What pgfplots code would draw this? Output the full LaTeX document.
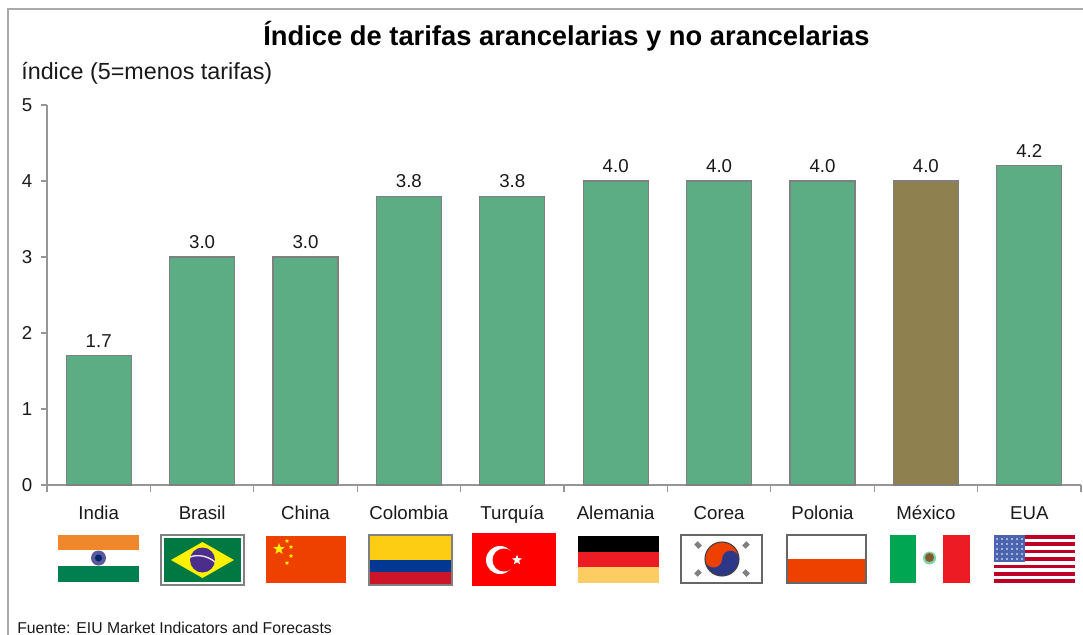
\documentclass[border=0pt]{standalone}
\usepackage{fontspec}
\setmainfont{Liberation Sans}
\usepackage{pgfplots}
\pgfplotsset{compat=1.18}
\usetikzlibrary{shapes.geometric}
\definecolor{barverde}{RGB}{92,173,131}
\definecolor{barmex}{RGB}{143,128,80}
\definecolor{ejegris}{RGB}{150,150,150}
\definecolor{marco}{RGB}{170,170,170}
\definecolor{texto}{RGB}{25,25,25}
\definecolor{fnaranja}{RGB}{240,135,45}
\definecolor{fverde}{RGB}{0,128,80}
\definecolor{fverdeb}{RGB}{0,120,65}
\definecolor{frojoc}{RGB}{238,65,0}
\definecolor{famar}{RGB}{253,205,20}
\definecolor{fazul}{RGB}{0,56,147}
\definecolor{frojoe}{RGB}{205,20,40}
\definecolor{frojoa}{RGB}{237,28,36}
\definecolor{foro}{RGB}{253,205,100}
\definecolor{fverdem}{RGB}{0,166,81}
\definecolor{frojou}{RGB}{190,0,40}
\definecolor{fazulu}{RGB}{75,100,175}
\definecolor{fazulk}{RGB}{45,55,135}
\definecolor{fmorado}{RGB}{75,45,140}
\begin{document}
\begin{tikzpicture}
% 1 px de la referencia = 0.75pt
\useasboundingbox (0pt,0pt) rectangle (812.25pt,-476.25pt);
\begin{axis}[
    at={(35.25pt,-363.75pt)},anchor=south west,
    scale only axis,width=775.5pt,height=285pt,
    ybar,bar width=48.75pt,bar shift=0pt,
    xmin=-0.5,xmax=9.5,ymin=0,ymax=5,
    axis x line*=bottom,axis y line*=left,
    axis line style={ejegris,line width=1.1pt,-},
    tick align=outside,
    xtick={0,...,9},
    xticklabels={India,Brasil,China,Colombia,Turquía,Alemania,Corea,Polonia,México,EUA},
    minor xtick={-0.5,0.5,...,9.5},
    minor tick length=5pt,
    major x tick style={draw=none},
    minor x tick style={ejegris,line width=0.9pt},
    ytick={0,...,5},
    y tick style={ejegris,line width=0.9pt},
    major tick length=4.5pt,
    tick label style={font=\fontsize{14pt}{16pt}\selectfont,text=texto},
    xticklabel style={yshift=-8pt,text height=10pt,text depth=3pt},
    yticklabel style={xshift=-3pt},
    /pgf/number format/assume math mode=true,
    title={\textbf{Índice de tarifas arancelarias y no arancelarias}},
    title style={at={(axis description cs:0.5024,1.160)},anchor=center,font=\fontsize{20.5pt}{24pt}\selectfont},
    ylabel={índice (5=menos tarifas)},
    ylabel style={rotate=-90,at={(axis description cs:-0.0251,1.083)},anchor=west,font=\fontsize{17.5pt}{20pt}\selectfont,text=texto,inner sep=0pt},
    nodes near coords={\pgfmathprintnumber[fixed,fixed zerofill,precision=1]{\pgfplotspointmeta}},
    nodes near coords style={font=\fontsize{14pt}{16pt}\selectfont,text=texto,yshift=2.5pt,/pgf/number format/assume math mode=true},
]
\addplot[fill=barverde,draw=gray,line width=0.8pt] coordinates {
    (0,1.7) (1,3.0) (2,3.0) (3,3.8) (4,3.8) (5,4.0) (6,4.0) (7,4.0) (9,4.2)
};
\addplot[fill=barmex,draw=gray,line width=0.8pt] coordinates {(8,4.0)};
\end{axis}
\begin{scope}[x=0.75pt,y=-0.75pt]
% marco
\draw[marco,line width=1.5pt] (8,635) -- (8,9) -- (1083,9);
\node[anchor=base west,inner sep=0pt,font=\fontsize{11.8pt}{14pt}\selectfont,text=texto] at (17,633) {Fuente: EIU Market Indicators and Forecasts};
% India
\fill[fnaranja] (58,535) rectangle (139,550);
\fill[white] (58,550) rectangle (139,566);
\fill[fverde] (58,566) rectangle (139,582);
\fill[black!10!blue!30!gray] (98.5,558) circle (7.5);
\fill[fazul!70!black] (98.5,558) circle (3.5);
% Brasil
\fill[white] (161,535) rectangle (244,585);
\draw[gray,line width=1pt] (161,535) rectangle (244,585);
\fill[fverdeb] (164,538) rectangle (241,582);
\fill[yellow] (171,560) -- (202.5,542) -- (234,560) -- (202.5,578) -- cycle;
\fill[fmorado] (202.5,560) circle (12.5);
\draw[white!85!gray,line width=1pt] (190,557) .. controls (198,554) and (208,556) .. (215,562);
% China
\fill[frojoc] (266,536) rectangle (346,583);
\node[star,star points=5,star point ratio=2.4,fill=yellow,inner sep=0pt,minimum size=9pt] at (279,549) {};
\foreach \xx/\yy in {287/541,291/547,291/556,287/563}{
  \node[star,star points=5,star point ratio=2.4,fill=yellow,inner sep=0pt,minimum size=3.5pt] at (\xx,\yy) {};
}
% Colombia
\fill[famar] (369,535) rectangle (452,560);
\fill[fazul] (369,560) rectangle (452,572);
\fill[frojoe] (369,572) rectangle (452,585);
\draw[gray,line width=0.8pt] (369,535) rectangle (452,585);
% Turquia
\fill[red] (472,533) rectangle (556,586);
\fill[white] (500,560) circle (14);
\fill[red] (504,560) circle (11.5);
\node[star,star points=5,star point ratio=2.4,fill=white,inner sep=0pt,minimum size=8pt] at (517,560) {};
% Alemania
\fill[black] (578,536) rectangle (659,552);
\fill[frojoa] (578,552) rectangle (659,567);
\fill[foro] (578,567) rectangle (659,583);
% Corea
\fill[white] (681,535) rectangle (762,583);
\draw[gray!80!black,line width=1.1pt] (681,535) rectangle (762,583);
\fill[fazulk] (722,559) circle (17);
\fill[frojoc] (705,559) arc (180:360:17) arc (360:180:8.5) arc (0:180:8.5) -- cycle;
\draw[black!75,line width=0.8pt] (722,559) circle (17);
\foreach \xx/\yy/\ang in {698/545/-45,746/545/45,698/573/45,746/573/-45}{
  \draw[gray,line width=3.5pt,rotate around={\ang:(\xx,\yy)}] (\xx-3,\yy) -- (\xx+3,\yy);
  \draw[gray,line width=3.5pt,rotate around={\ang:(\xx,\yy)}] (\xx,\yy-1) -- (\xx,\yy+1);
}
% Polonia
\fill[white] (787,535) rectangle (866,559);
\fill[frojoc] (787,559) rectangle (866,583);
\draw[gray!80!black,line width=1pt] (787,535) rectangle (866,583);
% Mexico
\fill[fverdem] (890,535) rectangle (916,583);
\fill[white] (916,535) rectangle (943,583);
\fill[frojoa] (943,535) rectangle (970,583);
\fill[fverdem!50!white] (929.5,558) circle (6.5);
\fill[brown!70!black] (929.5,557.5) circle (4.5);
% EUA
\fill[white] (994,535) rectangle (1075,583);
\foreach \i in {0,2,...,12}{
  \fill[frojou] (994,535+\i*3.692) rectangle (1075,535+\i*3.692+3.692);
}
\fill[fazulu] (994,535) rectangle (1025,562);
\foreach \i in {0,...,5}{\foreach \j in {0,...,4}{
  \fill[white!70!fazulu] (997+\i*5,539+\j*5) circle (1.1);
}}
\end{scope}
\end{tikzpicture}
\end{document}
